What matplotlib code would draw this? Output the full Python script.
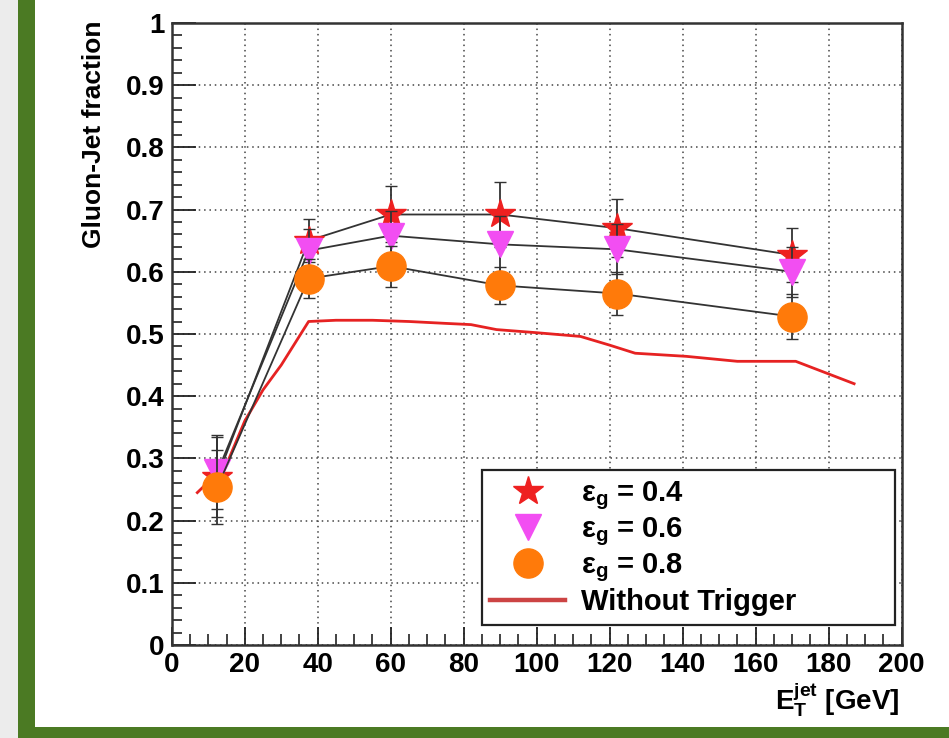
import numpy as np
import matplotlib
matplotlib.use('Agg')
import matplotlib.pyplot as plt
from matplotlib.patches import Rectangle
from matplotlib.lines import Line2D
from matplotlib.ticker import MultipleLocator

plt.rcParams['font.family'] = ['Liberation Sans', 'DejaVu Sans']
plt.rcParams['font.weight'] = 'bold'
plt.rcParams['mathtext.fontset'] = 'custom'
plt.rcParams['mathtext.rm'] = 'Liberation Sans:bold'
plt.rcParams['mathtext.bf'] = 'Liberation Sans:bold'
plt.rcParams['mathtext.it'] = 'Liberation Sans:bold'

# Pontos (centro dos bins de E_T)
et = [12.5, 37.5, 60, 90, 122, 170]

# epsilon_g = 0.4
frac_04 = [0.270, 0.650, 0.692, 0.692, 0.670, 0.627]
err_04 = [0.064, 0.035, 0.045, 0.053, 0.047, 0.044]

# epsilon_g = 0.6
frac_06 = [0.278, 0.634, 0.658, 0.644, 0.636, 0.600]
err_06 = [0.060, 0.035, 0.040, 0.045, 0.040, 0.040]

# epsilon_g = 0.8
frac_08 = [0.254, 0.589, 0.609, 0.578, 0.565, 0.528]
err_08 = [0.060, 0.032, 0.033, 0.030, 0.034, 0.036]

# Sem trigger
et_sem = [7, 15, 20, 25, 30, 37.5, 45, 55, 65, 75, 82, 89, 100, 112, 120, 127, 141, 155, 171, 187]
frac_sem = [0.245, 0.290, 0.360, 0.410, 0.450, 0.520, 0.522, 0.522, 0.520, 0.517, 0.515,
            0.507, 0.502, 0.496, 0.482, 0.469, 0.464, 0.456, 0.456, 0.420]

rotulos = [r'ε$_{g}$ = 0.4', r'ε$_{g}$ = 0.6', r'ε$_{g}$ = 0.8', 'Without Trigger']

fig = plt.figure(figsize=(9.49, 7.38), dpi=100)
fig.patch.set_facecolor('white')

# Moldura verde
fig.patches.append(Rectangle((0, 0), 0.019, 1, transform=fig.transFigure,
                             facecolor='#ececec', edgecolor='none', zorder=-2))
fig.patches.append(Rectangle((0.019, 0), 0.018, 1, transform=fig.transFigure,
                             facecolor='#4b7a23', edgecolor='none', zorder=-1))
fig.patches.append(Rectangle((0.019, 0), 0.981, 0.015, transform=fig.transFigure,
                             facecolor='#4b7a23', edgecolor='none', zorder=-1))

ax = fig.add_axes([0.181, 0.126, 0.769, 0.843])

linha = '#333333'
cores = ['#ee2020', '#f24ef2', '#ff7a0a']
marcadores = ['*', 'v', 'o']
tamanhos = [22, 19, 21]
series = [(frac_04, err_04), (frac_06, err_06), (frac_08, err_08)]

for i, (y, e) in enumerate(series):
    ax.errorbar(et, y, yerr=e, color=linha, lw=1.3, elinewidth=1.3, capsize=4.5,
                marker=marcadores[i], ms=tamanhos[i], mfc=cores[i], mec=cores[i],
                zorder=3 + i)
ax.plot(et_sem, frac_sem, color='#e62222', lw=2, zorder=2)

ax.set_xlim(0, 200)
ax.set_ylim(0, 1)
ax.xaxis.set_major_locator(MultipleLocator(20))
ax.xaxis.set_minor_locator(MultipleLocator(5))
ax.yaxis.set_minor_locator(MultipleLocator(0.02))
ax.set_yticks(np.arange(0, 1.01, 0.1))
ax.set_yticklabels(['0', '0.1', '0.2', '0.3', '0.4', '0.5', '0.6', '0.7', '0.8', '0.9', '1'])

ax.tick_params(axis='both', which='both', direction='in', labelsize=20, color='#222222')
ax.tick_params(axis='y', which='major', length=17, width=1.3, pad=5)
ax.tick_params(axis='y', which='minor', length=7, width=1.2)
ax.tick_params(axis='x', which='major', length=13, width=1.3, pad=5)
ax.tick_params(axis='x', which='minor', length=8, width=1.2)

ax.grid(True, which='major', color='#444444', linestyle=(0, (1, 2.5)), linewidth=1.1)
for s in ax.spines.values():
    s.set_linewidth(1.8)
    s.set_color('#333333')

ax.set_ylabel('Gluon-Jet fraction', fontsize=19, fontweight='bold')
ax.yaxis.label.set_ha('right')
ax.yaxis.label.set_va('center')
ax.yaxis.set_label_coords(-0.107, 1.004)

ax.set_xlabel(r'E$_{T}^{jet}$ [GeV]', fontsize=20, fontweight='bold')
ax.xaxis.label.set_ha('right')
ax.xaxis.label.set_va('baseline')
ax.xaxis.set_label_coords(0.997, -0.104)

# Legenda
handles = [Line2D([], [], linestyle='none', marker=marcadores[i], ms=tamanhos[i],
                  mfc=cores[i], mec=cores[i]) for i in range(3)]
handles.append(Line2D([], [], color='#cc4444', lw=3.2))
leg = ax.legend(handles, rotulos, loc='upper left',
                bbox_to_anchor=(0.4247, 0.0353, 0.567, 0.2456),
                mode='expand', fontsize=21, frameon=True, fancybox=False,
                borderpad=0.3, labelspacing=0.12, handlelength=2.55, handletextpad=0.55,
                borderaxespad=0)
leg.get_frame().set_edgecolor('#222222')
leg.get_frame().set_linewidth(1.6)
leg.get_frame().set_alpha(1)
leg.set_zorder(10)

plt.savefig('out.png', dpi=100)
